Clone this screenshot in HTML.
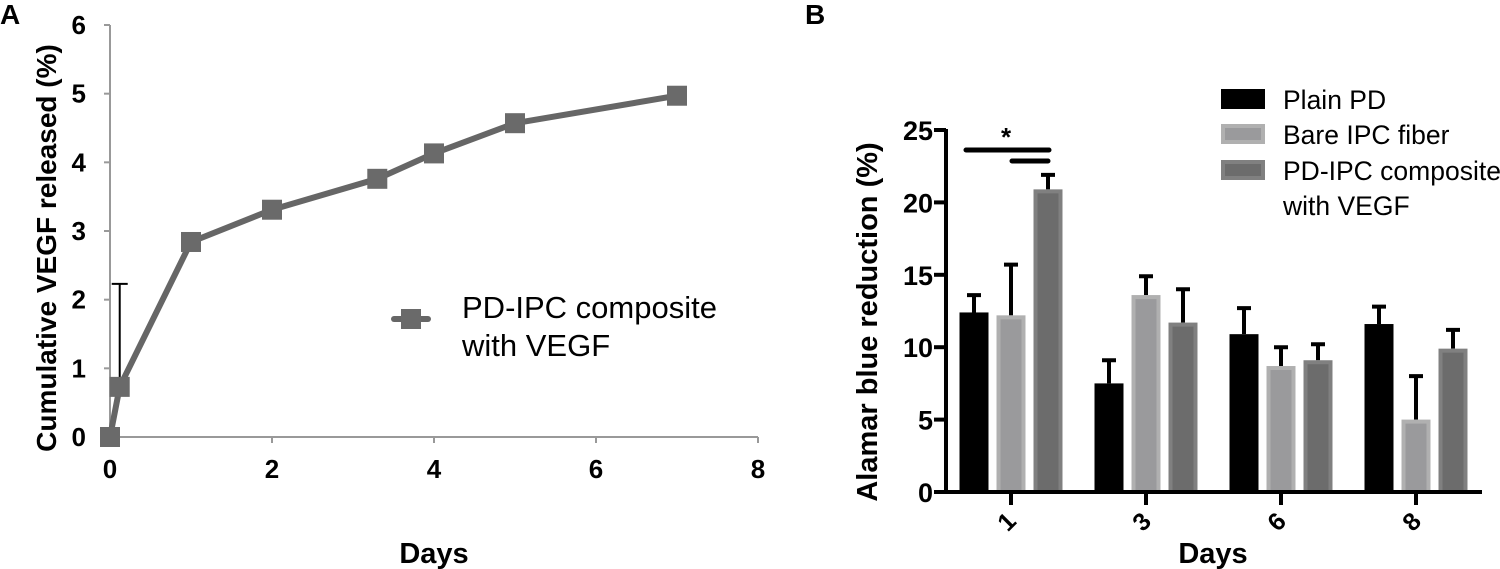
<!DOCTYPE html>
<html><head><meta charset="utf-8"><style>
body{margin:0;background:#fff;}
svg{display:block;font-family:"Liberation Sans",Arial,sans-serif;}
</style></head><body>
<svg id="fig" width="1500" height="569" viewBox="0 0 1500 569">
<g id="A"></g>
<g id="B"></g>
</svg>
<script>
// Panel A data
const aDays = [0, 0.12, 1, 2, 3.3, 4, 5, 7];
const aValues = [0, 0.73, 2.84, 3.31, 3.76, 4.13, 4.57, 4.97];
const aYTicks = [0,1,2,3,4,5,6];
const aXTicks = [0,2,4,6,8];
// Panel B data
const bCategories = ["1","3","6","8"];
const bSeriesNames = ["Plain PD","Bare IPC fiber","PD-IPC composite with VEGF"];
const bPlain = [12.4, 7.5, 10.9, 11.6];
const bPlainErr = [1.2, 1.6, 1.8, 1.2];
const bBare = [12.2, 13.6, 8.7, 5.0];
const bBareErr = [3.5, 1.3, 1.3, 3.0];
const bComp = [20.9, 11.7, 9.1, 9.9];
const bCompErr = [1.0, 2.3, 1.1, 1.3];
const bYTicks = [0,5,10,15,20,25];

const NS="http://www.w3.org/2000/svg";
function mk(parent,tag,attrs,text){const e=document.createElementNS(NS,tag);for(const k in attrs)e.setAttribute(k,attrs[k]);if(text!==undefined)e.textContent=text;parent.appendChild(e);return e;}

// ---- Panel A
const A=document.getElementById('A');
const ax=v=>110+v*81, ay=v=>437-v*(412/6);
let t=mk(A,'text',{x:0,y:24,'font-size':28,'font-weight':'bold'},'A');


let l=mk(A,'line',{x1:110,y1:ay(6),x2:110,y2:437,stroke:'#999','stroke-width':2});


l=mk(A,'line',{x1:110,y1:437,x2:ax(8),y2:437,stroke:'#999','stroke-width':2});


aYTicks.forEach(v=>{
  let tk=mk(A,'line',{x1:104,y1:ay(v),x2:110,y2:ay(v),stroke:'#999','stroke-width':2});
  
  
  let tl=mk(A,'text',{x:86,y:ay(v)+9,'font-size':26,'font-weight':'bold','text-anchor':'end'},String(v));
  
  
});
aXTicks.forEach(v=>{
  let tk=mk(A,'line',{x1:ax(v),y1:437,x2:ax(v),y2:443,stroke:'#999','stroke-width':2});
  
  
  let tl=mk(A,'text',{x:ax(v),y:478,'font-size':26,'font-weight':'bold','text-anchor':'middle'},String(v));
  
  
});
t=mk(A,'text',{x:434,y:563,'font-size':29,'font-weight':'bold','text-anchor':'middle'},'Days');


t=mk(A,'text',{x:0,y:0,'font-size':28,'font-weight':'bold','text-anchor':'middle',transform:'translate(56,248) rotate(-90)'},'Cumulative VEGF released (%)');


let eb=mk(A,'path',{d:`M${ax(aDays[1])} ${ay(aValues[1])}V${ay(2.23)}M${ax(aDays[1])-8} ${ay(2.23)}H${ax(aDays[1])+8}M${ax(aDays[1])-9} ${ay(0.62)}H${ax(aDays[1])}`,stroke:'#000','stroke-width':2,fill:'none'});


let pl=mk(A,'polyline',{points:aDays.map((d,i)=>ax(d)+','+ay(aValues[i])).join(' '),fill:'none',stroke:'#666','stroke-width':6,'stroke-linejoin':'round'});


aDays.forEach((d,i)=>{
  let r=mk(A,'rect',{x:ax(d)-10,y:ay(aValues[i])-10,width:20,height:20,fill:'#6a6a6a'});
  
  
});
let lg=mk(A,'g',{});


mk(lg,'line',{x1:394,y1:319,x2:428,y2:319,stroke:'#666','stroke-width':6,'stroke-linecap':'round'});
mk(lg,'rect',{x:401,y:309,width:20,height:20,fill:'#6a6a6a'});
mk(lg,'text',{x:462,y:318,'font-size':31},'PD-IPC composite');
mk(lg,'text',{x:462,y:356,'font-size':31},'with VEGF');

// ---- Panel B
const B=document.getElementById('B');
const by=v=>492-v*(362/25);
const groupX=i=>1011+i*135;
const barW=29, offs=[-37,0,37];
const fills=['#000','#9a9a9c','#6c6c6c'], edges=['#000','#b0b0b0','#808080'];
t=mk(B,'text',{x:805,y:24,'font-size':28,'font-weight':'bold'},'B');


const series=[[bPlain,bPlainErr],[bBare,bBareErr],[bComp,bCompErr]];
bCategories.forEach((c,i)=>{
  series.forEach((s,j)=>{
    const cx=groupX(i)+offs[j], v=s[0][i], e=s[1][i];
    let er=mk(B,'path',{d:`M${cx} ${by(v)}V${by(v+e)}M${cx-7} ${by(v+e)}H${cx+7}`,stroke:'#000','stroke-width':4,fill:'none'});
    
    
    let r=mk(B,'rect',{x:cx-barW/2+2,y:by(v)+2,width:barW-4,height:by(0)-by(v)-2,fill:fills[j],stroke:edges[j],'stroke-width':4});
    
    
  });
  let tk=mk(B,'line',{x1:groupX(i),y1:492,x2:groupX(i),y2:505,stroke:'#000','stroke-width':4});
  
  
  let tl=mk(B,'text',{x:0,y:0,'font-size':25,'font-weight':'bold','text-anchor':'middle','dominant-baseline':'central',transform:`translate(${groupX(i)-4},522) rotate(-45)`},c);
  
  
});
l=mk(B,'line',{x1:946,y1:by(25)-1,x2:946,y2:494,stroke:'#000','stroke-width':4});


l=mk(B,'line',{x1:944,y1:492,x2:1482,y2:492,stroke:'#000','stroke-width':4});


bYTicks.forEach(v=>{
  let tk=mk(B,'line',{x1:934,y1:by(v),x2:946,y2:by(v),stroke:'#000','stroke-width':4});
  
  
  let tl=mk(B,'text',{x:933,y:by(v)+10,'font-size':27,'font-weight':'bold','text-anchor':'end'},String(v));
  
  
});
t=mk(B,'text',{x:1213,y:563,'font-size':29,'font-weight':'bold','text-anchor':'middle'},'Days');


t=mk(B,'text',{x:0,y:0,'font-size':29,'font-weight':'bold','text-anchor':'middle',transform:'translate(877,322) rotate(-90)'},'Alamar blue reduction (%)');


let sg=mk(B,'path',{d:'M966 150H1049M1012 161H1048',stroke:'#000','stroke-width':5,'stroke-linecap':'round'});


t=mk(B,'text',{x:1006,y:146,'font-size':26,'font-weight':'bold','text-anchor':'middle'},'*');


const legY=[89,124,160];
bSeriesNames.forEach((n,j)=>{
  let g=mk(B,'g',{});
  
  
  mk(g,'rect',{x:1223,y:legY[j]+2,width:40,height:16,fill:fills[j],stroke:edges[j],'stroke-width':4});
  if(j<2) mk(g,'text',{x:1283,y:legY[j]+20,'font-size':26.5},n);
  else { mk(g,'text',{x:1283,y:legY[j]+20,'font-size':26.5},'PD-IPC composite'); mk(g,'text',{x:1283,y:legY[j]+55,'font-size':26.5},'with VEGF'); }
});
</script>
</body></html>
